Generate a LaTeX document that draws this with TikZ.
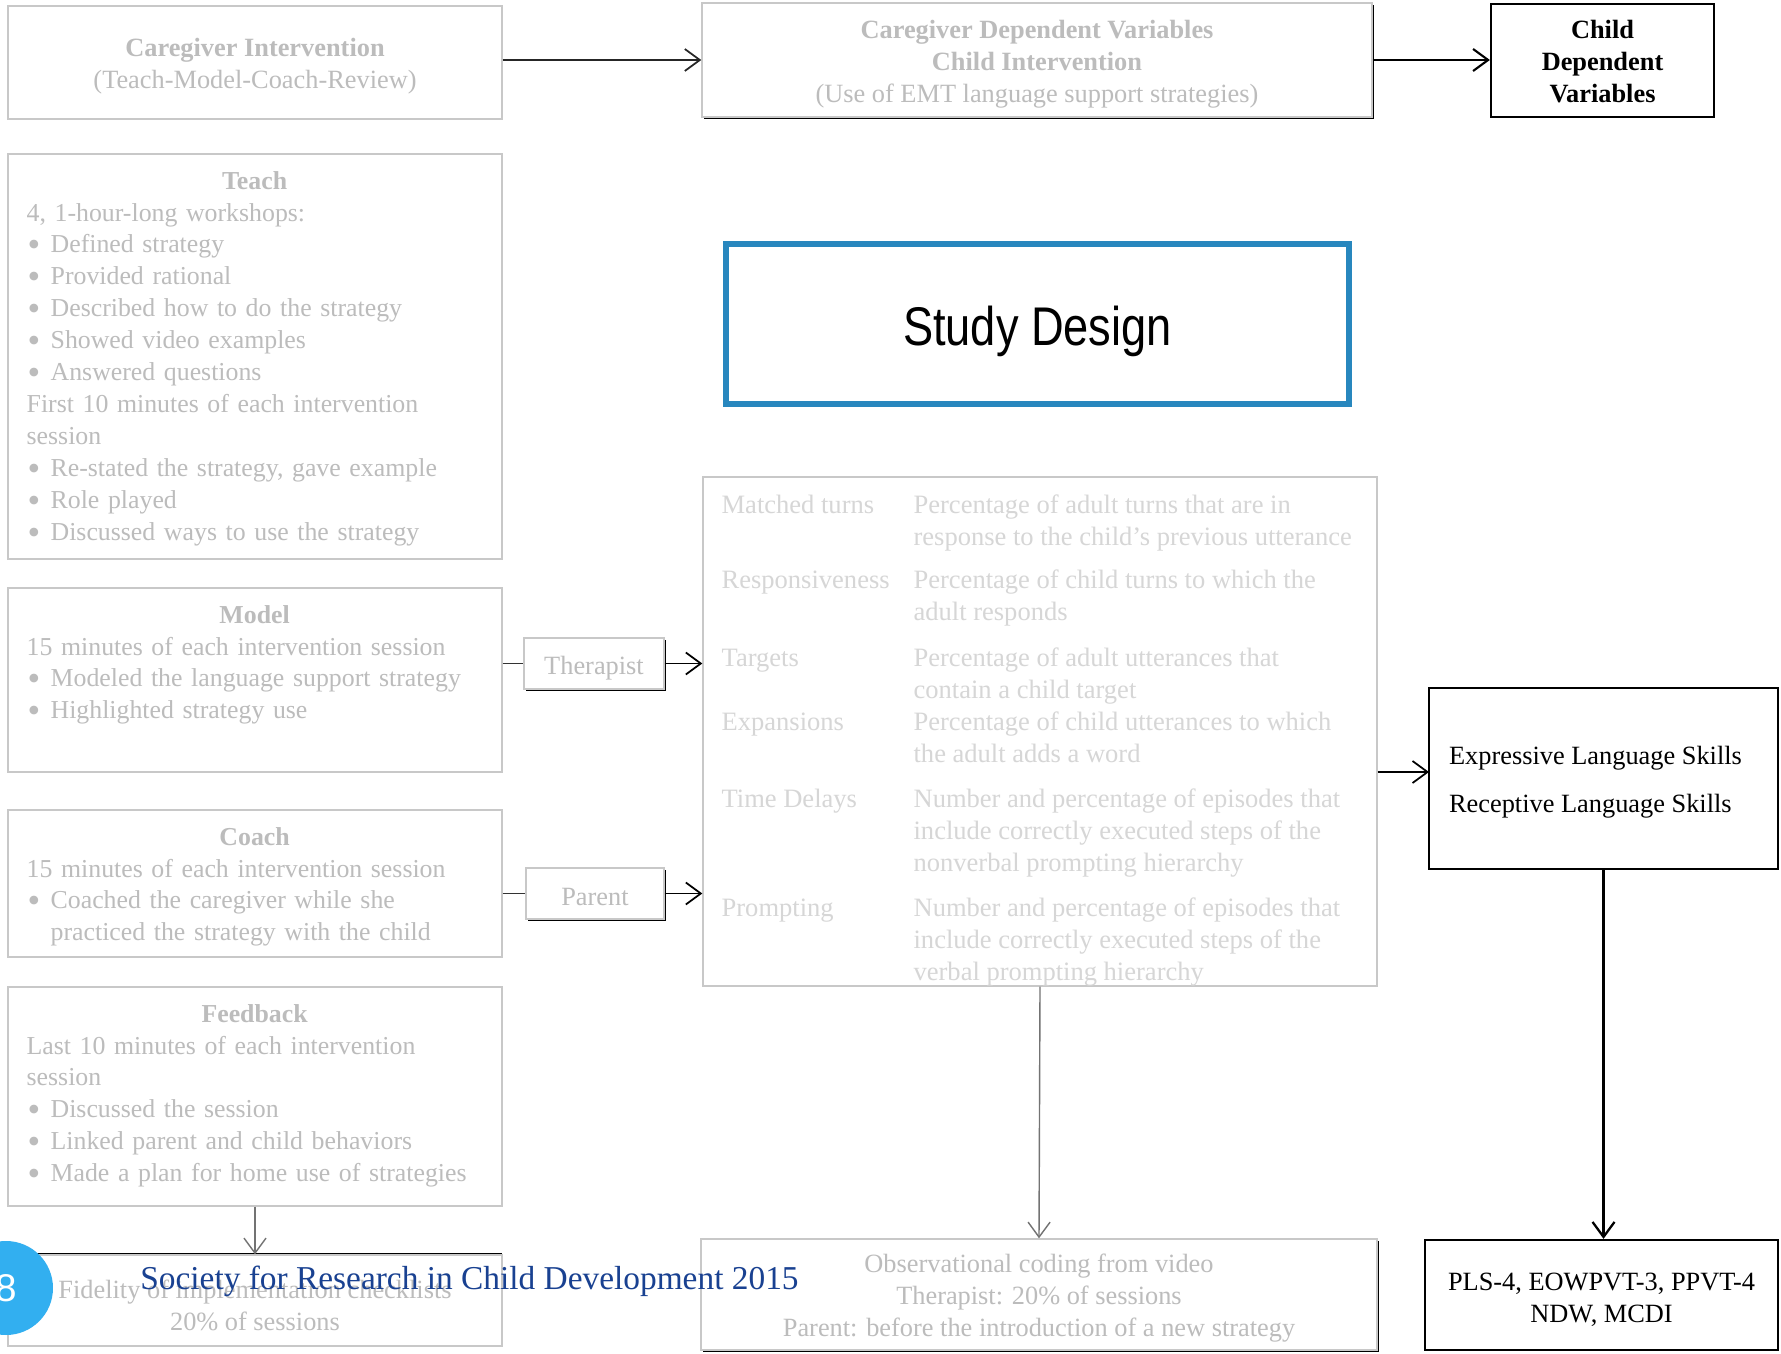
\documentclass[tikz,border=0pt]{standalone}
\usepackage{fontspec}
\setmainfont{Liberation Serif}
\setsansfont{Liberation Sans}
\newfontfamily\headfont[FakeStretch=0.83]{Liberation Sans}
\usetikzlibrary{arrows.meta,positioning,fit,shadows}

\definecolor{boxgray}{RGB}{200,200,200}
\definecolor{txtgray}{RGB}{188,188,188}
\definecolor{palegray}{RGB}{214,214,214}
\definecolor{designblue}{RGB}{40,135,190}
\definecolor{slideblue}{RGB}{50,175,240}
\definecolor{navy}{RGB}{25,65,145}

\newcommand{\itm}{\makebox[0.48cm][l]{\hspace*{0.02cm}\raisebox{-0.13em}{\scalebox{1.4}{\textbullet}}}}
\newcommand{\ind}{\hspace*{0.48cm}}

\begin{document}
\begin{tikzpicture}[x=0.02cm,y=-0.02cm,font=\fontsize{15}{18.2}\selectfont,
    >={Straight Barb[length=3mm,width=4.4mm]},
    box/.style={draw=boxgray,line width=0.8pt,fill=white,inner sep=0pt},
    shadowbox/.style={box,drop shadow={shadow xshift=1.3pt,shadow yshift=-1.3pt,fill=black,opacity=1}},
    darkbox/.style={draw=black,line width=1.3pt,fill=white,inner sep=0pt},
    boxtxt/.style={inner sep=0pt,align=center,text=txtgray},
    body/.style={anchor=north west,inner sep=0pt,text width=9.12cm,align=left,text=txtgray,font=\fontsize{14.7}{18.2}\selectfont},
    link/.style={->,line width=1pt},
    graylink/.style={->,line width=0.8pt,draw=black!55},
    joint/.style={line width=1pt,draw=black!80}]

\path[use as bounding box,fill=white] (0,0) rectangle (1781,1354);

% top row
\node[box,fit={(8,6) (502,119)}] (careint) {};
\node[boxtxt] (careinttxt) at ([shift={(0,4)}]careint.center) {\textbf{Caregiver Intervention}\\(Teach-Model-Coach-Review)};
\node[shadowbox,fit={(702,3) (1372,117)}] (cdv) {};
\node[boxtxt] (cdvtxt) at ([shift={(0,4)}]cdv.center) {\textbf{Caregiver Dependent Variables}\\\textbf{Child Intervention}\\(Use of EMT language support strategies)};
\node[darkbox,fit={(1491,4) (1714,117)}] (childdv) {};
\node[boxtxt,text=black] (childdvtxt) at ([shift={(0,1)}]childdv.center) {\textbf{Child}\\\textbf{Dependent}\\\textbf{Variables}};

% left column
\node[box,fit={(8,154) (502,559)}] (teach) {};
\node[body] (teachtxt) at ([shift={(19,13)}]teach.north west) {\centerline{\bfseries\strut Teach}
  4, 1-hour-long workshops:\\
  \itm Defined strategy\\
  \itm Provided rational\\
  \itm Described how to do the strategy\\
  \itm Showed video examples\\
  \itm Answered questions\\
  First 10 minutes of each intervention\\
  session\\
  \itm Re-stated the strategy, gave example\\
  \itm Role played\\
  \itm Discussed ways to use the strategy};

\node[box,fit={(8,588) (502,772)}] (model) {};
\node[body] (modeltxt) at ([shift={(19,13)}]model.north west) {\centerline{\bfseries\strut Model}
  15 minutes of each intervention session\\
  \itm Modeled the language support strategy\\
  \itm Highlighted strategy use};

\node[box,fit={(8,810) (502,957)}] (coach) {};
\node[body] (coachtxt) at ([shift={(19,13)}]coach.north west) {\centerline{\bfseries\strut Coach}
  15 minutes of each intervention session\\
  \itm Coached the caregiver while she\\
  \ind practiced the strategy with the child};

\node[box,fit={(8,987) (502,1206)}] (feedback) {};
\node[body] (feedbacktxt) at ([shift={(19,13)}]feedback.north west) {\centerline{\bfseries\strut Feedback}
  Last 10 minutes of each intervention\\
  session\\
  \itm Discussed the session\\
  \itm Linked parent and child behaviors\\
  \itm Made a plan for home use of strategies};

\node[box,drop shadow={shadow xshift=0pt,shadow yshift=1.3pt,fill=black,opacity=1},fit={(8,1255) (502,1346)}] (fidelity) {};
\node[boxtxt] (fidelitytxt) at ([shift={(0,5)}]fidelity.center) {Fidelity of implementation checklists\\20\% of sessions};

% middle
\node[draw=designblue,line width=3.4pt,inner sep=0pt,fit={(726,244) (1349,404)}] (design) {};
\node[inner sep=0pt,font=\headfont\fontsize{31}{36}\selectfont] (designtxt) at ([shift={(0,7)}]design.center) {Study Design};

\node[shadowbox,fit={(524,638) (664,689)}] (therapist) {};
\node[boxtxt] (therapisttxt) at ([shift={(0,5)}]therapist.center) {Therapist};
\node[shadowbox,fit={(526,868) (664,919)}] (parent) {};
\node[boxtxt] (parenttxt) at ([shift={(0,3)}]parent.center) {Parent};

\node[box,fit={(703,477) (1377,986)}] (measures) {};
\node[anchor=north west,inner sep=0pt,text=palegray,font=\fontsize{15.1}{18.2}\selectfont] (measurestxt) at ([shift={(19,14)}]measures.north west) {%
  \begin{tabular}{@{}p{3.84cm}@{}p{9.2cm}@{}}
  Matched turns & Percentage of adult turns that are in\newline response to the child’s previous utterance\\[0.24cm]
  Responsiveness & Percentage of child turns to which the\newline adult responds\\[0.28cm]
  Targets & Percentage of adult utterances that\newline contain a child target\\
  Expansions & Percentage of child utterances to which\newline the adult adds a word\\[0.26cm]
  Time Delays & Number and percentage of episodes that\newline include correctly executed steps of the\newline nonverbal prompting hierarchy\\[0.26cm]
  Prompting & Number and percentage of episodes that\newline include correctly executed steps of the\newline verbal prompting hierarchy
  \end{tabular}};

\node[shadowbox,fit={(701,1239) (1377,1350)}] (observe) {};
\node[boxtxt] (observetxt) at ([shift={(0,4)}]observe.center) {Observational coding from video\\Therapist: 20\% of sessions\\Parent: before the introduction of a new strategy};

% right column
\node[darkbox,fit={(1429,688) (1778,869)}] (language) {};
\node[inner sep=0pt,align=left] (languagetxt) at ([shift={(-8,4)}]language.center) {Expressive Language Skills\\[9pt]Receptive Language Skills};
\node[darkbox,fit={(1425,1240) (1778,1350)}] (pls) {};
\node[boxtxt,text=black] (plstxt) at ([shift={(0,5)}]pls.center) {PLS-4, EOWPVT-3, PPVT-4\\NDW, MCDI};
\coordinate (langin) at (1429,772);

% connectors
\draw[link,draw=black!85] (careint.east |- cdv.west) -- (cdv.west);
\draw[link,line width=1.2pt] (cdv.east) -- (cdv.east -| childdv.west);
\draw[joint] (model.east |- therapist.west) -- (therapist.west);
\draw[link] (therapist.east) -- (therapist.east -| measures.west);
\draw[joint] (coach.east |- parent.west) -- (parent.west);
\draw[link] (parent.east) -- (parent.east -| measures.west);
\draw[graylink] (feedback.south) -- (fidelity.north);
\draw[graylink] (measures.south) -- (observe.north);
\draw[link] (measures.east |- langin) -- (langin);
\draw[link,line width=1.3pt] (language.south) -- (language.south |- pls.north);

% slide footer
\node[circle,fill=slideblue,minimum size=1.88cm,inner sep=0pt,text=white,font=\sffamily\fontsize{22}{26}\selectfont] (slidenum) at (6,1288) {8};
\node[anchor=west,inner sep=0pt,text=navy,font=\fontsize{19}{22}\selectfont] (footer) at (140,1281) {Society for Research in Child Development 2015};
\end{tikzpicture}
\end{document}
